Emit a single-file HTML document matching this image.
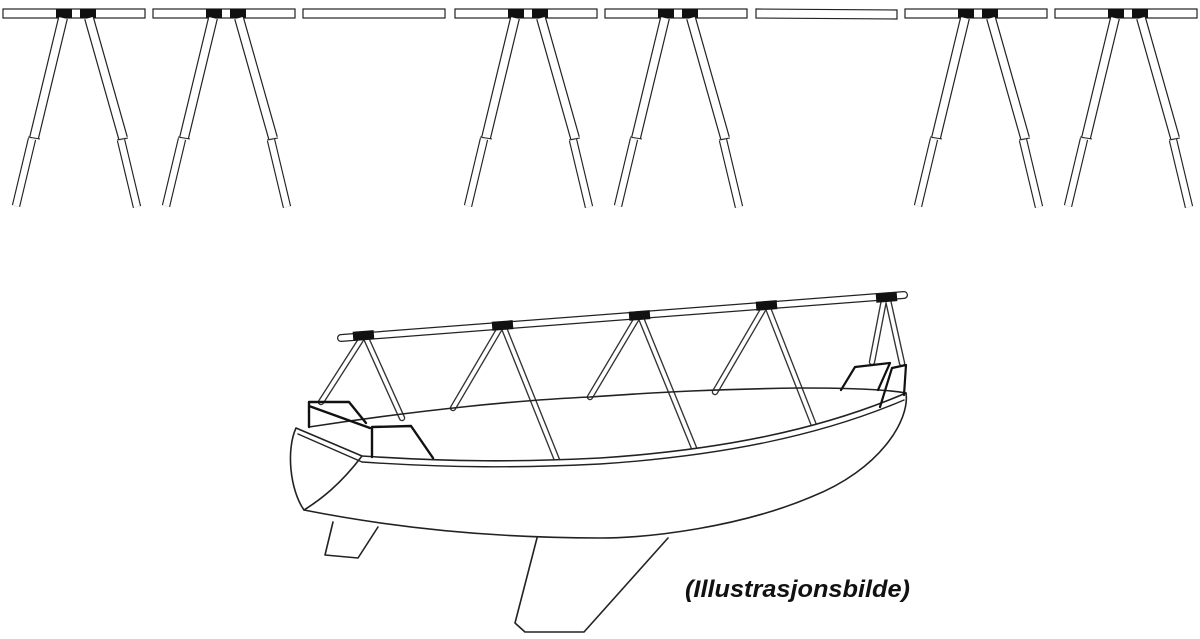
<!DOCTYPE html>
<html><head><meta charset="utf-8"><style>
html,body{margin:0;padding:0;background:#fff;width:1200px;height:639px;overflow:hidden}
</style></head><body>
<svg width="1200" height="639" viewBox="0 0 1200 639" xmlns="http://www.w3.org/2000/svg">
<defs>
<g id="bar">
<rect x="3" y="9" width="142" height="9" fill="#fff" stroke="#222" stroke-width="1.2"/>
</g>
<g id="frame">
<use href="#bar"/>
<rect x="56" y="9" width="16" height="9" fill="#111"/>
<rect x="80" y="9" width="16" height="9" fill="#111"/>
<!-- left leg -->
<line x1="63" y1="18" x2="34" y2="138" stroke="#222" stroke-width="10"/>
<line x1="63" y1="18" x2="34" y2="138" stroke="#fff" stroke-width="7.6"/>
<line x1="32" y1="139" x2="16" y2="206" stroke="#222" stroke-width="8.5"/>
<line x1="32" y1="139" x2="16" y2="206" stroke="#fff" stroke-width="6.2"/>
<!-- right leg -->
<line x1="89" y1="18" x2="123" y2="138" stroke="#222" stroke-width="10"/>
<line x1="89" y1="18" x2="123" y2="138" stroke="#fff" stroke-width="7.6"/>
<line x1="121" y1="140" x2="137" y2="207" stroke="#222" stroke-width="8.5"/>
<line x1="121" y1="140" x2="137" y2="207" stroke="#fff" stroke-width="6.2"/>
<line x1="28" y1="137" x2="40" y2="139" stroke="#222" stroke-width="1"/>
<line x1="117" y1="140" x2="128" y2="138" stroke="#222" stroke-width="1"/>
</g>
<g id="leg"><path fill="none" stroke="#333" stroke-width="6"/></g>
</defs>

<use href="#frame" x="0"/>
<use href="#frame" x="150"/>
<rect x="303" y="9" width="142" height="9" fill="#fff" stroke="#222" stroke-width="1.2"/>
<use href="#frame" x="452"/>
<use href="#frame" x="602"/>
<polygon points="756,9 897,10 897,19 756,18" fill="#fff" stroke="#222" stroke-width="1.2"/>
<use href="#frame" x="902"/>
<use href="#frame" x="1052"/>

<!-- Boat -->
<g fill="none" stroke="#222" stroke-linecap="round" stroke-linejoin="round">
<!-- legs -->
<g stroke-width="6.5" stroke="#333">
<line x1="362" y1="338" x2="321" y2="402"/><line x1="366" y1="338" x2="402" y2="418"/>
<line x1="500" y1="328" x2="453" y2="408"/><line x1="504" y1="328" x2="557" y2="460"/>
<line x1="637" y1="318" x2="590" y2="397"/><line x1="641" y1="318" x2="694" y2="448"/>
<line x1="764" y1="308" x2="715" y2="392"/><line x1="768" y1="308" x2="815" y2="428"/>
<line x1="884" y1="300" x2="872" y2="362"/><line x1="888" y1="300" x2="902" y2="363"/>
</g>
<g stroke-width="3.8" stroke="#fff">
<line x1="362" y1="338" x2="321" y2="402"/><line x1="366" y1="338" x2="402" y2="418"/>
<line x1="500" y1="328" x2="453" y2="408"/><line x1="504" y1="328" x2="557" y2="460"/>
<line x1="637" y1="318" x2="590" y2="397"/><line x1="641" y1="318" x2="694" y2="448"/>
<line x1="764" y1="308" x2="715" y2="392"/><line x1="768" y1="308" x2="815" y2="428"/>
<line x1="884" y1="300" x2="872" y2="362"/><line x1="888" y1="300" x2="902" y2="363"/>
</g>
<!-- pole -->
<line x1="341" y1="338" x2="904" y2="295" stroke="#222" stroke-width="8"/>
<line x1="341" y1="338" x2="904" y2="295" stroke="#fff" stroke-width="5.5"/>
<rect x="353" y="331" width="21" height="9" fill="#111" stroke="none" transform="rotate(-4.4 363 336)"/>
<rect x="492" y="321" width="21" height="9" fill="#111" stroke="none" transform="rotate(-4.4 502 325)"/>
<rect x="629" y="311" width="21" height="9" fill="#111" stroke="none" transform="rotate(-4.4 639 315)"/>
<rect x="756" y="301" width="21" height="9" fill="#111" stroke="none" transform="rotate(-4.4 766 305)"/>
<rect x="876" y="293" width="21" height="9" fill="#111" stroke="none" transform="rotate(-4.4 886 297)"/>

<!-- far gunwale -->
<path d="M309,427 C420,410 520,400 590,397 C660,392 720,389 800,388 C860,388 890,390 906,393" stroke-width="1.6"/>
<!-- keel and rudder -->
<path d="M333,522 L325,555 L358,558 L378,527" stroke-width="1.6" fill="#fff"/>
<path d="M537,538 L515,623 L525,632 L584,632 L668,538" stroke-width="1.6" fill="#fff"/>
<!-- hull -->
<path d="M296,428 L362,456 C450,462 520,462 600,458 C720,450 820,430 906,393 C910,420 880,470 811,497 C740,527 650,538 600,538 C480,538 380,525 304,510 C290,490 286,450 296,428 Z" fill="#fff" stroke-width="1.6"/>
<path d="M362,456 C340,485 320,500 304,510" stroke-width="1.6"/>
<path d="M298,434 L362,462 C450,468 520,468 600,464 C720,456 820,436 904,400" stroke-width="1.4"/>
<!-- left frames -->
<path d="M309,427 L309,402 L349,402 L366,423 M309,406 L370,428" stroke-width="2.4" stroke="#111"/>
<path d="M372,457 L372,427 L411,426 L433,458" stroke-width="2.4" stroke="#111"/>
<!-- right frames -->
<path d="M841,390 L855,367 L890,363 L878,390" stroke-width="2.2" stroke="#111"/>
<path d="M880,407 L892,368 L906,365 L904,395" stroke-width="2.2" stroke="#111"/>
</g>
<text x="685" y="597" font-family="Liberation Sans, sans-serif" font-weight="bold" font-style="italic" font-size="24" textLength="225" lengthAdjust="spacingAndGlyphs" fill="#111">(Illustrasjonsbilde)</text>
</svg>
</body></html>
